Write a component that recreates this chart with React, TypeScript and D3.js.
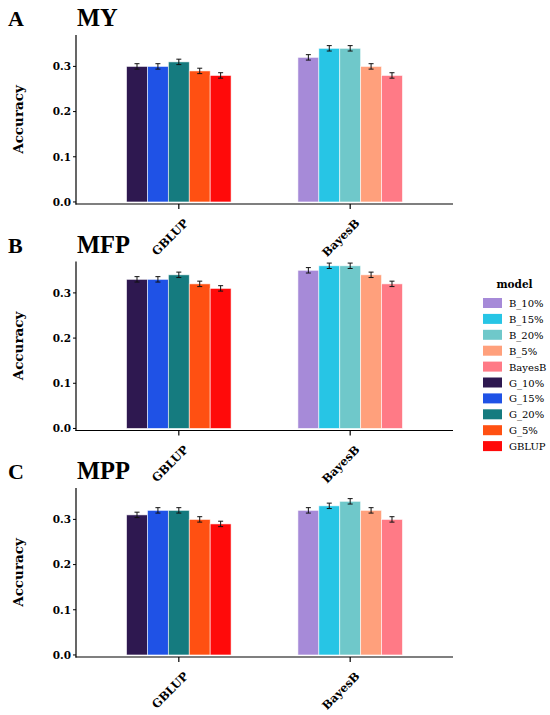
import React from "react";
import * as d3 from "d3";

const groups = ["GBLUP", "BayesB"];
const models = ["B_10%", "B_15%", "B_20%", "B_5%", "BayesB", "G_10%", "G_15%", "G_20%", "G_5%", "GBLUP"];
const modelColors = ["#a68ad8", "#27c5e5", "#6fc8ca", "#ffa07c", "#ff7a86", "#2e1850", "#1f52e6", "#157b7f", "#ff5012", "#ff0a0a"];
const gModels = ["G_10%", "G_15%", "G_20%", "G_5%", "GBLUP"];
const bModels = ["B_10%", "B_15%", "B_20%", "B_5%", "BayesB"];
const panelLetters = ["A", "B", "C"];
const traits = ["MY", "MFP", "MPP"];
// values per trait: GBLUP group (gModels), BayesB group (bModels)
const gValues = [
  [0.30, 0.30, 0.31, 0.29, 0.28],
  [0.33, 0.33, 0.34, 0.32, 0.31],
  [0.31, 0.32, 0.32, 0.30, 0.29],
];
const bValues = [
  [0.32, 0.34, 0.34, 0.30, 0.28],
  [0.35, 0.36, 0.36, 0.34, 0.32],
  [0.32, 0.33, 0.34, 0.32, 0.30],
];
const errValue = 0.006;
const yTicks = [0, 0.1, 0.2, 0.3];

const serifBold = "'DejaVu Serif', serif";
const titleFont = "'Liberation Serif', 'Times New Roman', serif";

function Panel({ idx }: { idx: number }) {
  const top = 35 + idx * 226.5;
  const bottom = top + 169;
  const left = 76;
  const right = 453;
  // ggplot discrete expansion: 0.6 units on each side
  const x = d3.scaleLinear().domain([0.4, 2.6]).range([left, right]);
  const xPos = (g: string) => x(1 + groups.indexOf(g));
  const unit = x(2) - x(1);
  const y = d3.scaleLinear().domain([-0.0045, 0.3695]).range([bottom, top]);
  const groupWidth = 0.61 * unit;
  const inner = d3.scaleBand<number>().domain([0, 1, 2, 3, 4]).range([-groupWidth / 2, groupWidth / 2]).padding(0);
  const color = d3.scaleOrdinal<string, string>().domain(models).range(modelColors);
  const data = [
    ...gModels.map((m, i) => ({ group: "GBLUP", model: m, i, v: gValues[idx][i] })),
    ...bModels.map((m, i) => ({ group: "BayesB", model: m, i, v: bValues[idx][i] })),
  ];
  return (
    <g>
      <text x={8} y={top - 9} fontFamily={titleFont} fontWeight="bold" fontSize={22}>{panelLetters[idx]}</text>
      <text x={77} y={top - 9} fontFamily={titleFont} fontWeight="bold" fontSize={24.5}>{traits[idx]}</text>
      {data.map((d) => {
        const cx = xPos(d.group) + (inner(d.i) as number);
        const w = inner.bandwidth();
        return (
          <rect key={d.model} x={cx} y={y(d.v)} width={w} height={y(0) - y(d.v)} fill={color(d.model)} stroke="#ffffff" strokeOpacity={0.7} strokeWidth={0.8} />
        );
      })}
      {data.map((d) => {
        const cx = xPos(d.group) + (inner(d.i) as number) + inner.bandwidth() / 2;
        const y1 = y(d.v + errValue);
        const y0 = y(d.v - errValue);
        return (
          <g key={"e" + d.model} stroke="#111" strokeWidth={1}>
            <line x1={cx} x2={cx} y1={y0} y2={y1} />
            <line x1={cx - 2.5} x2={cx + 2.5} y1={y0} y2={y0} />
            <line x1={cx - 2.5} x2={cx + 2.5} y1={y1} y2={y1} />
          </g>
        );
      })}
      <line x1={left} x2={left} y1={top} y2={bottom + 0.6} stroke="#000" strokeWidth={1.2} />
      <line x1={left - 0.6} x2={right} y1={bottom} y2={bottom} stroke="#000" strokeWidth={1.2} />
      {yTicks.map((t) => (
        <g key={t}>
          <line x1={left - 3} x2={left} y1={y(t)} y2={y(t)} stroke="#000" strokeWidth={1} />
          <text x={left - 5} y={y(t)} dy="0.36em" textAnchor="end" fontFamily={serifBold} fontWeight="bold" fontSize={10.5}>{d3.format(".1f")(t)}</text>
        </g>
      ))}
      {groups.map((g) => (
        <g key={g}>
          <line x1={xPos(g)} x2={xPos(g)} y1={bottom} y2={bottom + 5} stroke="#000" strokeWidth={1.2} />
          <text transform={`translate(${xPos(g) + 4.5},${bottom + 14.2}) rotate(-45)`} textAnchor="end" dy="0.7em" fontFamily={serifBold} fontWeight="bold" fontSize={11.5}>{g}</text>
        </g>
      ))}
      <text transform={`translate(23,${(top + bottom) / 2}) rotate(-90)`} textAnchor="middle" fontFamily={serifBold} fontWeight="bold" fontSize={13.5}>Accuracy</text>
    </g>
  );
}

function Legend() {
  const color = d3.scaleOrdinal<string, string>().domain(models).range(modelColors);
  return (
    <g>
      <text x={514.5} y={288} textAnchor="middle" fontFamily={serifBold} fontWeight="bold" fontSize={10.5}>model</text>
      {models.map((m, i) => (
        <g key={m}>
          <rect x={483} y={298 + i * 15.9} width={19} height={10} fill={color(m)} />
          <text x={509} y={298 + i * 15.9 + 9} fontFamily={serifBold} fontSize={10}>{m}</text>
        </g>
      ))}
    </g>
  );
}

export default function App() {
  return (
    <svg width={550} height={715} style={{ position: "absolute", left: 0, top: 0, background: "#fff" }}>
      <rect width={550} height={715} fill="#fff" />
      {[0, 1, 2].map((i) => (
        <Panel key={i} idx={i} />
      ))}
      <Legend />
    </svg>
  );
}
